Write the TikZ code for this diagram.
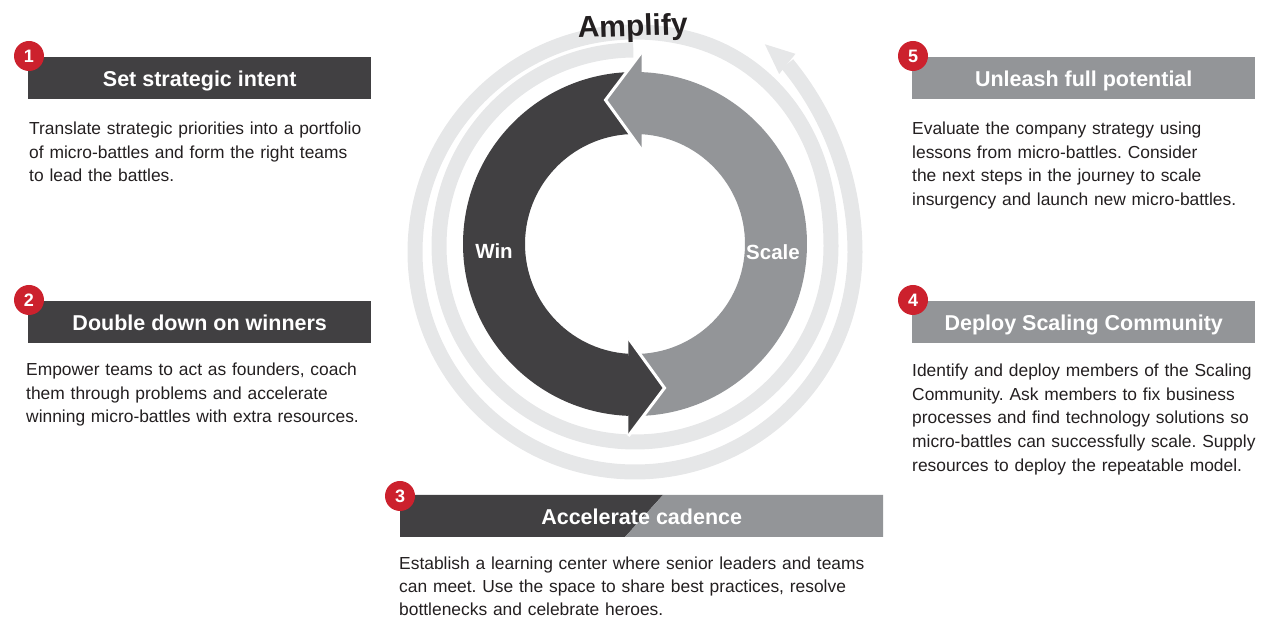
\documentclass[tikz,border=0pt]{standalone}
\usepackage{fontspec}
\setmainfont{Liberation Sans}
\frenchspacing
\definecolor{darkc}{RGB}{65,64,66}
\definecolor{grayc}{RGB}{147,149,152}
\definecolor{ringc}{RGB}{230,231,232}
\definecolor{redc}{RGB}{204,33,45}
\definecolor{txtc}{RGB}{35,31,32}
\begin{document}
\begin{tikzpicture}[x=1pt,y=1pt,
  declare function={sm(\u)=(3-2*min(1,\u/75))*min(1,\u/75)*min(1,\u/75);},
  ring/.style={draw=ringc,line width=15pt},
  bar/.style={anchor=north west,minimum width=343pt,minimum height=42pt,inner sep=0pt,
    text height=17pt,text depth=0pt,text=white,font=\bfseries\fontsize{21.5}{21.5}\selectfont},
  num/.style={circle,fill=redc,minimum size=30pt,inner sep=0pt,text=white,
    font=\bfseries\fontsize{18}{18}\selectfont},
  para/.style={anchor=base west,inner sep=0pt,align=left,text width=#1,text=txtc,
    font=\fontsize{17.4}{23.7}\selectfont},
  para/.default=360pt,
  lbl/.style={text=white,inner sep=0pt,font=\bfseries\fontsize{20.5}{20.5}\selectfont},
  gap/.style={draw=white,line width=3pt}]
\useasboundingbox (0,0) rectangle (1265,620);

% light spiral ring
\draw[ring] (635,374) ++(90.5:196) arc[start angle=90.5,end angle=360,radius=196];
\draw[ring] plot[domain=0:90,samples=46,variable=\t]
  ({635+(196+24*sm(\t))*cos(\t)},{374-6*sm(\t)+(196+24*sm(\t))*sin(\t)});
\draw[ring] (635,368) ++(90:220) arc[start angle=90,end angle=360,radius=220];
\draw[ring] plot[domain=0:51,samples=30,variable=\t]
  ({635+(220+22*(\t/51)^2)*cos(\t)},{368+(220+22*(\t/51)^2)*sin(\t)});
\fill[ringc,shift={(635,368)}] (51:229) -- (51:255) -- (58:245) -- cycle;

% central arrows
\begin{scope}[shift={(635,376)}]
  \fill[darkc] (87.77:172) arc[start angle=87.77,end angle=267.77,radius=172]
    -- (266.51:110) arc[start angle=266.51,end angle=86.51,radius=110] -- cycle;
  \fill[grayc] (267.77:172) arc[start angle=267.77,end angle=447.77,radius=172]
    -- (6.7,192) -- (-29.5,144) -- (6.7,94)
    -- (86.51:110) arc[start angle=86.51,end angle=-93.49,radius=110] -- cycle;
  \draw[gap] (6.7,192) -- (-29.5,144) -- (6.7,94);
  \fill[darkc] (-6.7,-192) -- (29.5,-144) -- (-6.7,-94) -- (-6.7,-112) -- (-10,-112)
    -- (-10,-171) -- (-6.7,-171) -- cycle;
  \draw[gap] (-6.7,-192) -- (29.5,-144) -- (-6.7,-94);
\end{scope}
\node[lbl] (win) at (494,369) {Win};
\node[lbl] (scale) at (773,368) {Scale};
\node[font=\bfseries\fontsize{30}{30}\selectfont,text=txtc,rotate=2,anchor=base,inner sep=0pt]
  (amp) at (633,584) {Amplify};

% header bars
\node[bar,fill=darkc] (b1) at (28,563) {Set strategic intent};
\node[bar,fill=darkc] (b2) at (28,319) {Double down on winners};
\node[bar,fill=grayc] (b5) at (912,563) {Unleash full potential};
\node[bar,fill=grayc] (b4) at (912,319) {Deploy Scaling Community};
\fill[darkc] (400,125) -- (663,125) -- (625,83) -- (400,83) -- cycle;
\fill[grayc] (663,125) -- (883,125) -- (883,83) -- (625,83) -- cycle;
\node[bar,minimum width=483pt] (b3) at (400,125) {Accelerate cadence};

% number badges
\node[num] (n1) at (29,564) {1};
\node[num] (n2) at (29,320) {2};
\node[num] (n3) at (400,124) {3};
\node[num] (n4) at (913,320) {4};
\node[num] (n5) at (913,564) {5};

% paragraphs
\node[para] (p1) at (29,485.5) {Translate strategic priorities into a portfolio\\
of micro-battles and form the right teams\\
to lead the battles.};
\node[para] (p2) at (26,244.5) {Empower teams to act as founders, coach\\
them through problems and accelerate\\
winning micro-battles with extra resources.};
\node[para] (p5) at (912,485.5) {Evaluate the company strategy using\\
lessons from micro-battles. Consider\\
the next steps in the journey to scale\\
insurgency and launch new micro-battles.};
\node[para] (p4) at (912,243.5) {Identify and deploy members of the Scaling\\
Community. Ask members to fix business\\
processes and find technology solutions so\\
micro-battles can successfully scale. Supply\\
resources to deploy the repeatable model.};
\node[para=480pt,font=\fontsize{17.4}{23}\selectfont] (p3) at (399,50) {Establish a learning center where senior leaders and teams\\
can meet. Use the space to share best practices, resolve\\
bottlenecks and celebrate heroes.};
\end{tikzpicture}
\end{document}
